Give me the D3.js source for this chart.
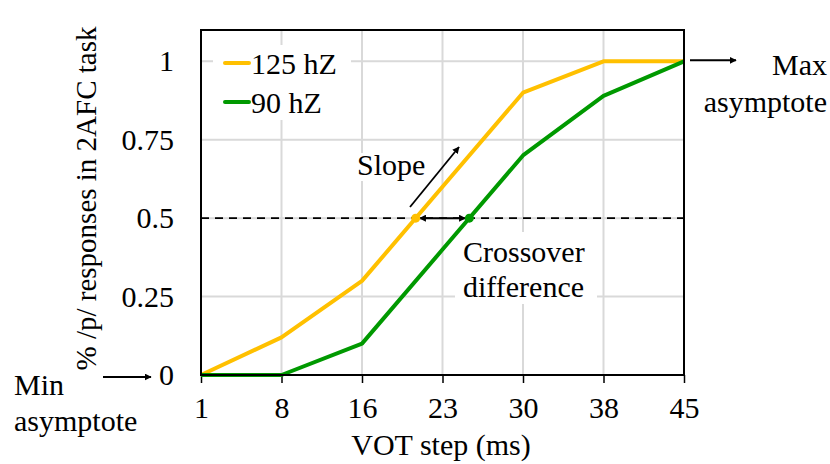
<!DOCTYPE html>
<html>
<head>
<meta charset="utf-8">
<script src="https://cdn.jsdelivr.net/npm/d3@7"></script>
<style>
  html, body { margin: 0; padding: 0; background: #fff; }
  svg { display: block; font-family: "Liberation Serif", "Times New Roman", serif; }
</style>
</head>
<body>
<svg id="chart" width="830" height="464"></svg>
<script>
// VOT continuum steps (ms)
const votSteps = ["1", "8", "16", "23", "30", "38", "45"];
// proportion of /p/ responses per step
const series125 = [0, 0.12, 0.30, 0.60, 0.90, 1, 1];
const series90  = [0, 0, 0.10, 0.40, 0.70, 0.89, 1];
const yTicks = [0, 0.25, 0.5, 0.75, 1];
const yTickLabels = ["0", "0.25", "0.5", "0.75", "1"];
const seriesNames = ["125 hZ", "90 hZ"];
const seriesColors = ["#FFC000", "#009900"];
const crossoverLevel = 0.5;

const svg = d3.select("#chart");
const plotL = 201, plotR = 684, plotT = 30, plotB = 375;
const FS = 30;

const x = d3.scalePoint().domain(votSteps).range([plotL, plotR]);
const y = d3.scaleLinear().domain([0, 1.1]).range([plotB, plotT]);

// arrow head markers
const defs = svg.append("defs");
function marker(id, orient) {
  defs.append("marker")
    .attr("id", id).attr("viewBox", "0 0 10 10")
    .attr("refX", 9).attr("refY", 5)
    .attr("markerWidth", 7).attr("markerHeight", 7)
    .attr("markerUnits", "userSpaceOnUse")
    .attr("orient", orient)
    .append("path").attr("d", "M0,0 L10,5 L0,10 z").attr("fill", "#000");
}
marker("head", "auto");
marker("headStart", "auto-start-reverse");

// gridlines
const grid = svg.append("g");
grid.selectAll("line.v").data(votSteps.slice(1, -1)).join("line")
  .attr("x1", d => x(d)).attr("x2", d => x(d))
  .attr("y1", plotT).attr("y2", plotB)
  .attr("stroke", "#d9d9d9").attr("stroke-width", 2);
grid.selectAll("line.h").data(yTicks.slice(1)).join("line")
  .attr("x1", plotL).attr("x2", plotR)
  .attr("y1", d => y(d)).attr("y2", d => y(d))
  .attr("stroke", "#d9d9d9").attr("stroke-width", 2);

// white panels behind the legend and annotation texts
svg.append("rect").attr("x", 213).attr("y", 45).attr("width", 138).attr("height", 75).attr("fill", "#fff");
svg.append("rect").attr("x", 352).attr("y", 153).attr("width", 78).attr("height", 28).attr("fill", "#fff");
svg.append("rect").attr("x", 455).attr("y", 232).attr("width", 142).attr("height", 72).attr("fill", "#fff");

// x axis ticks + labels
const xAxis = svg.append("g").attr("transform", `translate(0,${plotB})`)
  .call(d3.axisBottom(x).tickSize(8).tickPadding(14));
xAxis.select(".domain").remove();
xAxis.selectAll(".tick line").attr("stroke", "#000").attr("stroke-width", 1.5);
xAxis.selectAll(".tick text")
  .attr("font-family", "Liberation Serif").attr("font-size", FS).attr("fill", "#000");

// y axis labels
const yAxis = svg.append("g").attr("transform", `translate(${plotL},0)`)
  .call(d3.axisLeft(y).tickValues(yTicks)
    .tickFormat((d, i) => yTickLabels[i]).tickSize(0).tickPadding(27));
yAxis.select(".domain").remove();
yAxis.selectAll(".tick text")
  .attr("font-family", "Liberation Serif").attr("font-size", FS).attr("fill", "#000");

// 0.5 reference line
svg.append("line")
  .attr("x1", plotL).attr("x2", plotR)
  .attr("y1", y(crossoverLevel)).attr("y2", y(crossoverLevel))
  .attr("stroke", "#000").attr("stroke-width", 1.8)
  .attr("stroke-dasharray", "8,6");

// series lines
const line = d3.line().x((d, i) => x(votSteps[i])).y(d => y(d));
[series125, series90].forEach((s, k) => {
  svg.append("path").datum(s)
    .attr("d", line).attr("fill", "none")
    .attr("stroke", seriesColors[k]).attr("stroke-width", 4)
    .attr("stroke-linejoin", "round");
});

// crossing points of each curve at the 0.5 level
function crossing(s, level) {
  for (let i = 0; i < s.length - 1; i++) {
    if (s[i] < level && s[i + 1] >= level) {
      const t = (level - s[i]) / (s[i + 1] - s[i]);
      const x0 = x(votSteps[i]), x1 = x(votSteps[i + 1]);
      return x0 + t * (x1 - x0);
    }
  }
  return null;
}
const cx125 = crossing(series125, crossoverLevel);
const cx90 = crossing(series90, crossoverLevel);

// crossover difference arrow
svg.append("line")
  .attr("x1", cx125 + 4).attr("x2", cx90 - 4)
  .attr("y1", y(crossoverLevel)).attr("y2", y(crossoverLevel))
  .attr("stroke", "#000").attr("stroke-width", 2)
  .attr("marker-start", "url(#headStart)").attr("marker-end", "url(#head)");

[cx125, cx90].forEach((cx, k) => {
  svg.append("circle").attr("cx", cx).attr("cy", y(crossoverLevel))
    .attr("r", 4.5).attr("fill", seriesColors[k]);
});

// plot frame
svg.append("rect").attr("x", plotL).attr("y", plotT)
  .attr("width", plotR - plotL).attr("height", plotB - plotT)
  .attr("fill", "none").attr("stroke", "#000").attr("stroke-width", 2);

// legend
const legend = svg.append("g");
seriesNames.forEach((name, k) => {
  const ly = 63 + k * 39;
  legend.append("line").attr("x1", 225).attr("x2", 249).attr("y1", ly).attr("y2", ly)
    .attr("stroke", seriesColors[k]).attr("stroke-width", 4).attr("stroke-linecap", "round");
  legend.append("text").attr("x", 251).attr("y", ly).attr("dy", "0.35em")
    .attr("font-size", FS).text(name);
});

// slope annotation
svg.append("text").attr("x", 357).attr("y", 175).attr("font-size", FS).text("Slope");
svg.append("line").attr("x1", 410).attr("y1", 207).attr("x2", 459).attr("y2", 147)
  .attr("stroke", "#000").attr("stroke-width", 1.8).attr("marker-end", "url(#head)");

// crossover annotation
svg.append("text").attr("x", 463).attr("y", 262).attr("font-size", FS).text("Crossover");
svg.append("text").attr("x", 463).attr("y", 297).attr("font-size", FS).text("difference");

// asymptote annotations
svg.append("line").attr("x1", 103).attr("x2", 151).attr("y1", y(0) + 2).attr("y2", y(0) + 2)
  .attr("stroke", "#000").attr("stroke-width", 2).attr("marker-end", "url(#head)");
svg.append("text").attr("x", 14).attr("y", 395).attr("font-size", FS).text("Min");
svg.append("text").attr("x", 14).attr("y", 431).attr("font-size", FS).text("asymptote");

svg.append("line").attr("x1", 690).attr("x2", 736).attr("y1", y(1) - 1).attr("y2", y(1) - 1)
  .attr("stroke", "#000").attr("stroke-width", 2).attr("marker-end", "url(#head)");
svg.append("text").attr("x", 827).attr("y", 75).attr("text-anchor", "end").attr("font-size", FS).text("Max");
svg.append("text").attr("x", 827).attr("y", 112).attr("text-anchor", "end").attr("font-size", FS).text("asymptote");

// axis titles
svg.append("text").attr("x", 441).attr("y", 455)
  .attr("text-anchor", "middle").attr("font-size", FS).text("VOT step (ms)");
svg.append("text")
  .attr("transform", `translate(96,${(plotT + plotB) / 2 - 4}) rotate(-90)`)
  .attr("text-anchor", "middle").attr("font-size", 29).text("% /p/ responses in 2AFC task");
</script>
</body>
</html>
